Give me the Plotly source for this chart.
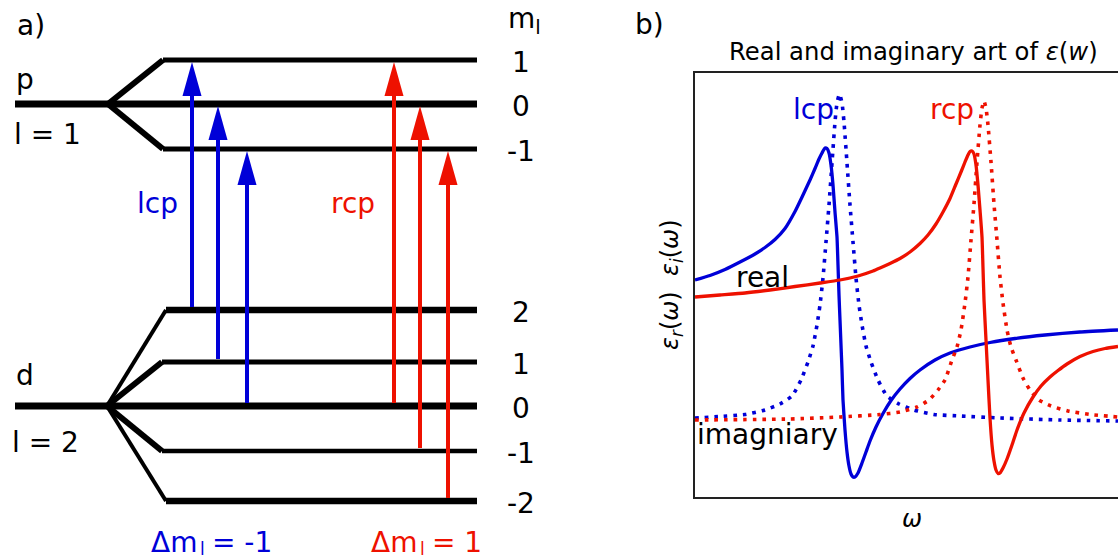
import plotly.graph_objects as go

# ---------------- data: panel a (energy levels, arbitrary energy units) ----------------
p_ml = [1, 0, -1]
p_energy = [499, 455, 410]
d_ml = [2, 1, 0, -1, -2]
d_energy = [249, 197, 153, 108, 58]
p_center = 455
d_center = 153
# transitions (d m_l -> p m_l)
lcp_from = [2, 1, 0]
lcp_to = [1, 0, -1]
rcp_from = [0, -1, -2]
rcp_to = [1, 0, -1]

# ---------------- data: panel b (arbitrary units) ----------------
w_re_lcp = [0, 15, 30, 45, 60, 70, 80, 90, 100, 108, 115, 120, 124, 127, 130, 132, 134, 136, 138,
            140, 142, 143, 144, 145, 146, 147, 148, 150, 152, 154, 156, 158, 160, 163, 167, 171,
            175, 181, 188, 196, 205, 215, 225, 240, 255, 275, 295, 320, 350, 385, 423]
e_re_lcp = [217, 221.5, 227.5, 235, 243, 249.5, 257.5, 268.5, 285.5, 302, 317, 328.5, 338, 344,
            349, 348.5, 344, 332, 312, 285, 260, 232, 202, 177, 152, 127, 97, 67, 45, 31, 23, 20,
            20, 24, 34, 45, 56, 70, 83.5, 96.5, 108, 118.5, 127, 137, 144, 150, 154.5, 158.5,
            162, 165, 167]

w_im_lcp = [0, 25, 50, 70, 85, 97, 106, 113, 118, 122, 125, 128, 131, 134, 137, 140, 142, 144.5,
            147, 149, 152, 155, 158, 161, 164, 167, 171, 176, 183, 192, 204, 219, 239, 265, 305,
            365, 423]
e_im_lcp = [79, 80.5, 82.5, 87, 93, 101, 117, 135, 151, 172, 192, 219, 255, 292, 334, 375, 394,
            403, 394, 375, 334, 292, 255, 219, 192, 172, 151, 135, 117, 101, 93, 87, 82.5, 81, 79,
            77, 76]

w_re_rcp = [0, 25, 50, 75, 100, 125, 145, 163, 178, 185, 195, 205, 215, 225, 233, 241, 248, 255,
            261, 266, 270, 273, 275, 277, 279, 281, 283, 285, 287, 288, 289, 291, 293, 295, 297,
            299, 301, 303, 305, 308, 312, 317, 322, 329, 338, 346, 355, 363, 372, 385, 398, 410,
            423]
e_re_rcp = [200, 202, 204, 207, 210.5, 214, 217, 221, 226, 229, 233.5, 238.5, 245, 253.5, 262,
            273, 285, 298.5, 313, 325, 335, 342, 345.5, 346, 343, 332, 312, 287, 260, 229, 197,
            157, 117, 79, 52, 36, 27, 23.5, 24, 29, 38, 52, 67, 84, 100, 111, 120, 126.5, 133,
            140.5, 145.5, 148.5, 150.5]

w_im_rcp = [0, 95, 145, 185, 205, 222, 234, 243, 250, 257, 262, 266, 270, 273, 276, 279, 282,
            285, 287, 289, 291, 293, 296, 299, 302, 305, 308, 312, 316, 321, 328, 335, 344, 356,
            373, 395, 423]
e_im_rcp = [77, 78, 80, 82.5, 85, 90, 97, 107, 117, 137, 150, 167, 194, 220, 257, 293, 335, 372,
            389, 396, 389, 372, 335, 293, 257, 220, 194, 167, 150, 137, 119, 107, 97, 91, 86,
            82.5, 80]

# ---------------- styles / layout constants ----------------
BLUE = "#0000d8"
RED = "#ee1100"
BLACK = "#000000"
FONT = "DejaVu Sans"
W, H = 1118, 559

X0 = 15          # start of unsplit level
FAN_P = 108      # fan point p
FAN_D = 107      # fan point d
X_END = 477      # end of levels
P_SPLIT_X = {1: 163, -1: 163}
D_SPLIT_X = {2: 166, 1: 162, -1: 162, -2: 166}
LCP_X = [192, 218, 247]
RCP_X = [394, 420, 448]
HEAD_LEN = 34
HEAD_HALF = 9.5

fig = go.Figure()


def seg(xs, ys, width, color=BLACK):
    fig.add_trace(go.Scatter(x=xs, y=ys, mode="lines", xaxis="x", yaxis="y",
                             line=dict(color=color, width=width), hoverinfo="skip"))


# p levels
pE = dict(zip(p_ml, p_energy))
seg([X0, X_END], [p_center, p_center], 7)
for m in (1, -1):
    seg([FAN_P, P_SPLIT_X[m]], [p_center, pE[m]], 6)
    seg([P_SPLIT_X[m], X_END], [pE[m], pE[m]], 5)

# d levels
dE = dict(zip(d_ml, d_energy))
seg([X0, X_END], [d_center, d_center], 7)
for m, dw, hw in ((2, 4, 6.5), (1, 6, 5), (-1, 6, 4.5), (-2, 4, 6.5)):
    seg([FAN_D, D_SPLIT_X[m]], [d_center, dE[m]], dw)
    seg([D_SPLIT_X[m], X_END], [dE[m], dE[m]], hw)


def arrow(x, y0, y1, color):
    tip = y1 - 2
    seg([x, x], [y0 + 3, tip - HEAD_LEN + 4], 4, color)
    fig.add_trace(go.Scatter(x=[x, x - HEAD_HALF, x + HEAD_HALF, x],
                             y=[tip, tip - HEAD_LEN, tip - HEAD_LEN, tip],
                             mode="lines", fill="toself", fillcolor=color,
                             line=dict(width=0, color=color), xaxis="x", yaxis="y",
                             hoverinfo="skip"))


for x, a, b in zip(LCP_X, lcp_from, lcp_to):
    arrow(x, dE[a], pE[b], BLUE)
for x, a, b in zip(RCP_X, rcp_from, rcp_to):
    arrow(x, dE[a], pE[b], RED)

# ---------------- panel b curves ----------------
DOT = "3.6px,6px"
SOLID = dict(width=3.3, shape="spline", smoothing=0.5)
DOTTED = dict(width=3.6, dash=DOT, shape="spline", smoothing=0.5)
fig.add_trace(go.Scatter(x=w_re_lcp, y=e_re_lcp, mode="lines", xaxis="x2", yaxis="y2",
                         line=dict(color=BLUE, **SOLID)))
fig.add_trace(go.Scatter(x=w_im_lcp, y=e_im_lcp, mode="lines", xaxis="x2", yaxis="y2",
                         line=dict(color=BLUE, **DOTTED)))
fig.add_trace(go.Scatter(x=w_re_rcp, y=e_re_rcp, mode="lines", xaxis="x2", yaxis="y2",
                         line=dict(color=RED, **SOLID)))
fig.add_trace(go.Scatter(x=w_im_rcp, y=e_im_rcp, mode="lines", xaxis="x2", yaxis="y2",
                         line=dict(color=RED, **DOTTED)))

# ---------------- text ----------------
ann = []


def txt(text, x, y, size=28, color=BLACK, xanchor="center", angle=0):
    # x, y in pixels from top-left
    ann.append(dict(text=text, x=x / W, y=1 - y / H, xref="paper", yref="paper",
                    xanchor=xanchor, yanchor="middle", showarrow=False, textangle=angle,
                    font=dict(family=FONT, size=size, color=color)))


txt("a)", 15, 26, xanchor="left")
txt("p", 14, 79, xanchor="left")
txt("l = 1", 12, 134, xanchor="left")
txt("d", 14, 375, xanchor="left")
txt("l = 2", 10, 442, xanchor="left")
txt("lcp", 157, 203, color=BLUE)
txt("rcp", 353, 203, color=RED)
txt("m<sub>l</sub>", 506, 20, xanchor="left")
for lab, yy in zip(p_ml, [62, 106, 151]):
    txt(str(lab), 521, yy)
for lab, yy in zip(d_ml, [312, 364, 408, 453, 503]):
    txt(str(lab), 521, yy)
# Δm_l labels (subscript placed by hand so it stays inside the page)
txt("Δm", 149, 542, color=BLUE, xanchor="left")
txt("l", 202.5, 548.5, size=17, color=BLUE)
txt("= -1", 210, 542, color=BLUE, xanchor="left")
txt("Δm", 369, 542, color=RED, xanchor="left")
txt("l", 422.5, 548.5, size=17, color=RED)
txt("= 1", 430, 542, color=RED, xanchor="left")

txt("b)", 633, 25, xanchor="left")
txt("Real and imaginary art of <i>ε</i>(<i>w</i>)", 913, 51, size=24.3)
txt("<i>ε<sub>r</sub></i>(<i>ω</i>)\u00a0\u00a0<i>ε<sub>i</sub></i>(<i>ω</i>)", 671, 285, size=24, angle=-90)
txt("<i>ω</i>", 912, 519, size=24)
txt("lcp", 813, 109, color=BLUE)
txt("rcp", 952, 109, color=RED)
txt("real", 762, 278)
txt("imagniary", 695, 434, xanchor="left")

fig.update_layout(
    width=W, height=H, margin=dict(l=0, r=0, t=0, b=0),
    paper_bgcolor="white", plot_bgcolor="white", showlegend=False,
    annotations=ann,
    xaxis=dict(domain=[0, 560 / W], range=[0, 560], visible=False, fixedrange=True),
    yaxis=dict(domain=[0, 1], range=[0, 559], visible=False, fixedrange=True),
    xaxis2=dict(domain=[695 / W, 1], range=[0, 423], anchor="y2", showline=True, mirror=True,
                linecolor="#222222", linewidth=2, showgrid=False, zeroline=False,
                showticklabels=False, ticks=""),
    yaxis2=dict(domain=[62 / H, 486 / H], range=[0, 424], anchor="x2", showline=True,
                mirror=False, linecolor="#222222", linewidth=2, showgrid=False,
                zeroline=False, showticklabels=False, ticks=""),
)

fig.write_html("out.html")
